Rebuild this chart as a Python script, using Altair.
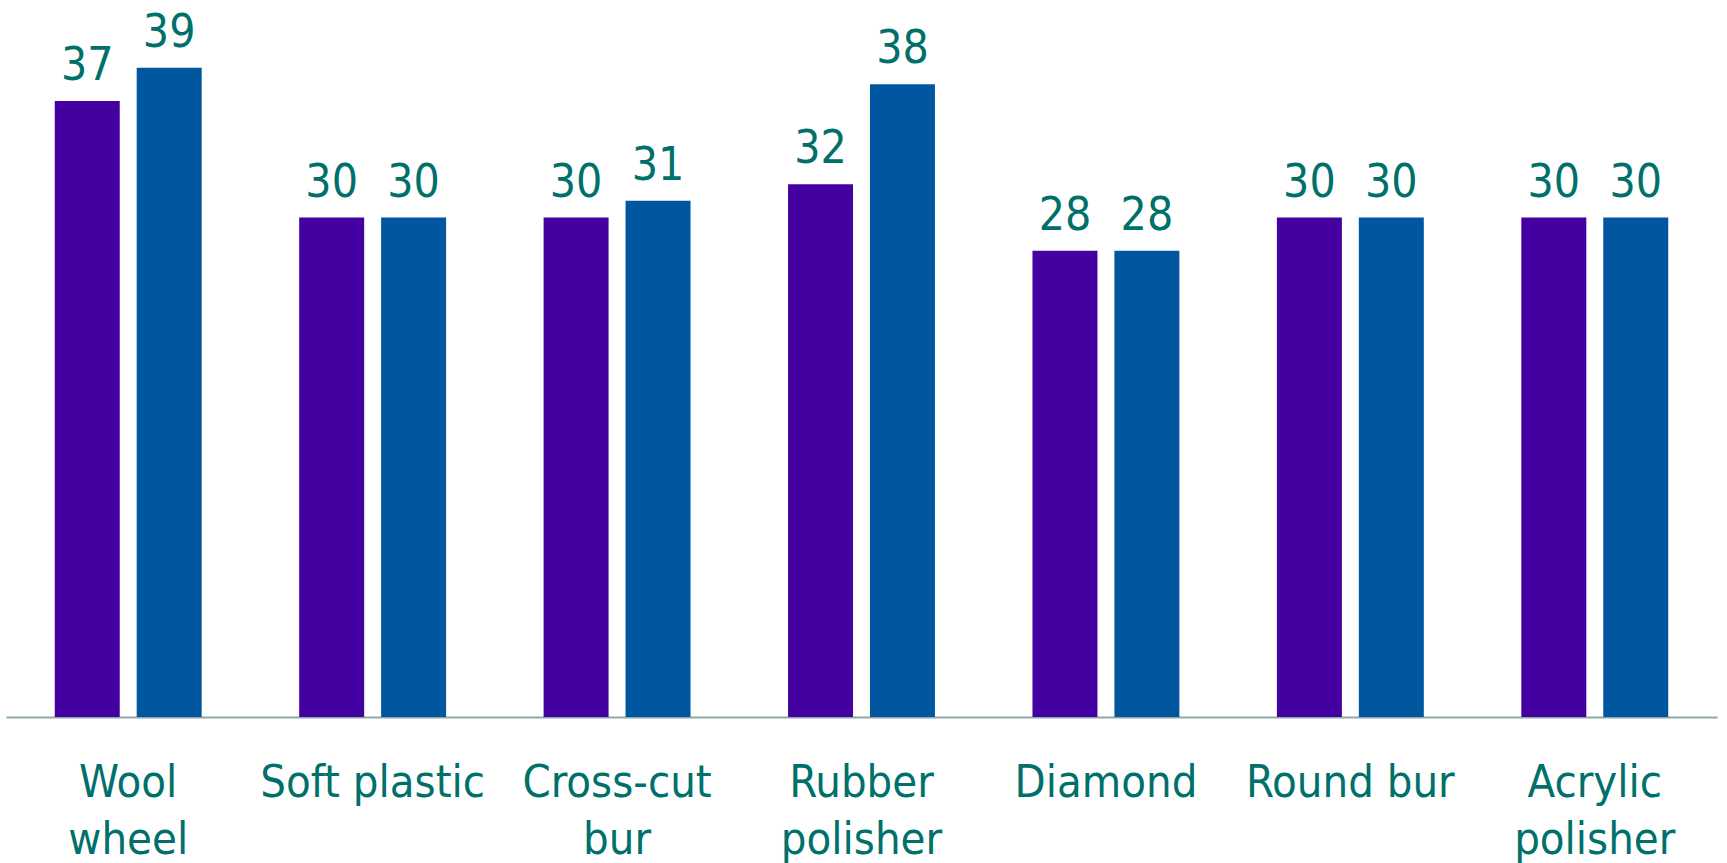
import altair as alt
import pandas as pd

categories = ["Wool wheel", "Soft plastic", "Cross-cut bur", "Rubber polisher",
              "Diamond", "Round bur", "Acrylic polisher"]
series_names = ["Series 1", "Series 2"]
series1 = [37, 30, 30, 32, 28, 30, 30]
series2 = [39, 30, 31, 38, 28, 30, 30]
colors = ["#4400A0", "#0057A0"]

rows = []
for c, a, b in zip(categories, series1, series2):
    rows.append({"cat": c, "series": series_names[0], "value": a})
    rows.append({"cat": c, "series": series_names[1], "value": b})
df = pd.DataFrame(rows)

FONT = "DejaVu Sans Condensed"
TEAL = "#00706B"

x_enc = alt.X("cat:N", sort=categories, title=None,
              scale=alt.Scale(paddingInner=0, paddingOuter=0),
              axis=alt.Axis(labelAngle=0, ticks=False, domain=True,
                            domainColor="#8FA8A8", domainWidth=2,
                            labelFont=FONT, labelFontSize=45, labelColor=TEAL,
                            labelPadding=43, labelLineHeight=57,
                            labelBaseline="top", labelLimit=400,
                            labelExpr="datum.label == 'Soft plastic' || datum.label == 'Round bur' ? datum.label : split(datum.label, ' ')"))
xo_enc = alt.XOffset("series:N", sort=series_names,
                     scale=alt.Scale(paddingInner=0.207, paddingOuter=0.595))
y_enc = alt.Y("value:Q", scale=alt.Scale(domain=[0, 40], nice=False, zero=True),
              axis=None)

base = alt.Chart(df).encode(x=x_enc, xOffset=xo_enc, y=y_enc)

bars = base.mark_bar().encode(
    color=alt.Color("series:N", sort=series_names,
                    scale=alt.Scale(domain=series_names, range=colors), legend=None)
)
labels = base.mark_text(font=FONT, fontSize=46, color=TEAL, baseline="alphabetic",
                        align="center", dy=-21).encode(text="value:Q")

chart = (bars + labels).properties(
    width=1711, height=666,
    autosize=alt.AutoSizeParams(type="none"),
    padding={"left": 6, "top": 51, "right": 10, "bottom": 146},
).configure_view(stroke=None).configure_axis(grid=False)

chart.save("out.html", embed_options={"renderer": "svg", "actions": False})
